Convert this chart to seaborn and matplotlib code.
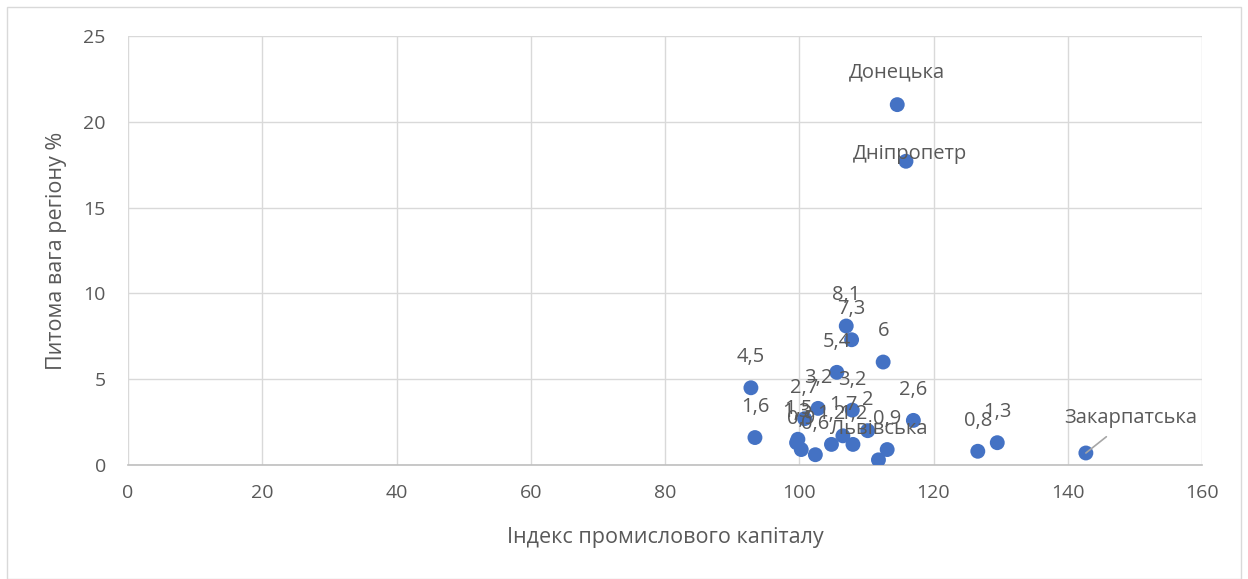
import matplotlib
matplotlib.use("Agg")
import matplotlib.pyplot as plt
import pandas as pd
import seaborn as sns

# ---------------------------------------------------------------------------
# Data
# ---------------------------------------------------------------------------
capital_index = [114.6, 115.9, 107.0, 107.8, 112.5, 105.6, 92.8, 102.8, 107.9,
                 100.8, 117.0, 93.4, 99.8, 99.6, 100.3, 102.4, 104.8, 106.5,
                 110.2, 108.0, 113.1, 111.8, 126.6, 129.5, 142.7]
region_share = [21.0, 17.7, 8.1, 7.3, 6.0, 5.4, 4.5, 3.3, 3.2,
                2.7, 2.6, 1.6, 1.5, 1.3, 0.9, 0.6, 1.2, 1.7,
                2.0, 1.2, 0.9, 0.3, 0.8, 1.3, 0.7]
point_labels = ["Донецька", "Дніпропетр", "8,1", "7,3", "6", "5,4", "4,5", "3,2", "3,2",
                "2,7", "2,6", "1,6", "1,5", "1,3", "0,9", "0,6", "1,2", "1,7",
                "2", "1,2", "0,9", "Львівська", "0,8", "1,3", "Закарпатська"]

x_ticks = [0, 20, 40, 60, 80, 100, 120, 140, 160]
y_ticks = [0, 5, 10, 15, 20, 25]

X_TITLE = "Індекс промислового капіталу"
Y_TITLE = "Питома вага регіону %"

TEXT_COLOR = "#595959"
GRID_COLOR = "#d9d9d9"
POINT_COLOR = "#4472C4"

# label offsets (points, from marker centre to label centre); Excel default
# puts the value label above the marker, a few were moved by hand
DEFAULT_OFFSET = (0, 22)
special_offsets = {
    "Донецька": (0, 23),
    "Дніпропетр": (3, 5),
}

# ---------------------------------------------------------------------------
# Plot
# ---------------------------------------------------------------------------
sns.set_theme(style="white")
plt.rcParams["font.family"] = ["Open Sans", "DejaVu Sans"]

df = pd.DataFrame({"x": capital_index, "y": region_share, "label": point_labels})

fig = plt.figure(figsize=(12.48, 5.79), dpi=100)
ax = fig.add_axes([128 / 1248, 1 - 465 / 579, (1202 - 128) / 1248, (465 - 36) / 579])

sns.scatterplot(data=df, x="x", y="y", ax=ax, color=POINT_COLOR, s=115,
                edgecolor="none", zorder=3, legend=False)

for _, row in df.iterrows():
    if row["label"] == "Закарпатська":
        ax.annotate(row["label"], (row["x"], row["y"]), xytext=(32, 25),
                    textcoords="offset points", ha="center", va="center",
                    fontsize=14.5, color=TEXT_COLOR, zorder=4,
                    arrowprops=dict(arrowstyle="-", color="#a6a6a6", lw=1.2,
                                    shrinkA=6, shrinkB=0,
                                    relpos=(0.4, 0.0)))
        continue
    dx, dy = special_offsets.get(row["label"], DEFAULT_OFFSET)
    ax.annotate(row["label"], (row["x"], row["y"]), xytext=(dx, dy),
                textcoords="offset points", ha="center", va="center",
                fontsize=14.5, color=TEXT_COLOR, zorder=4)

ax.set_xlim(0, 160)
ax.set_ylim(0, 25)
ax.set_xticks(x_ticks)
ax.set_yticks(y_ticks)
ax.grid(True, color=GRID_COLOR, lw=1)
ax.set_axisbelow(True)
ax.tick_params(axis="both", length=0, labelsize=14, labelcolor=TEXT_COLOR)
ax.tick_params(axis="x", pad=14)
ax.tick_params(axis="y", pad=16)
ax.set_xlabel(X_TITLE, fontsize=15.5, color=TEXT_COLOR, labelpad=18)
ax.set_ylabel(Y_TITLE, fontsize=15.5, color=TEXT_COLOR, labelpad=12)

for side in ["top", "right", "left"]:
    ax.spines[side].set_visible(False)
ax.spines["bottom"].set_color("#bfbfbf")
ax.spines["bottom"].set_linewidth(1.2)

# thin border around the whole chart area, like the Excel chart frame
fig.patches.append(plt.Rectangle((7 / 1248, 0), 1 - 14 / 1248, 1 - 7 / 579,
                                 transform=fig.transFigure, fill=False,
                                 edgecolor="#d9d9d9", lw=1))

fig.savefig("out.png", dpi=100)
plt.close(fig)
